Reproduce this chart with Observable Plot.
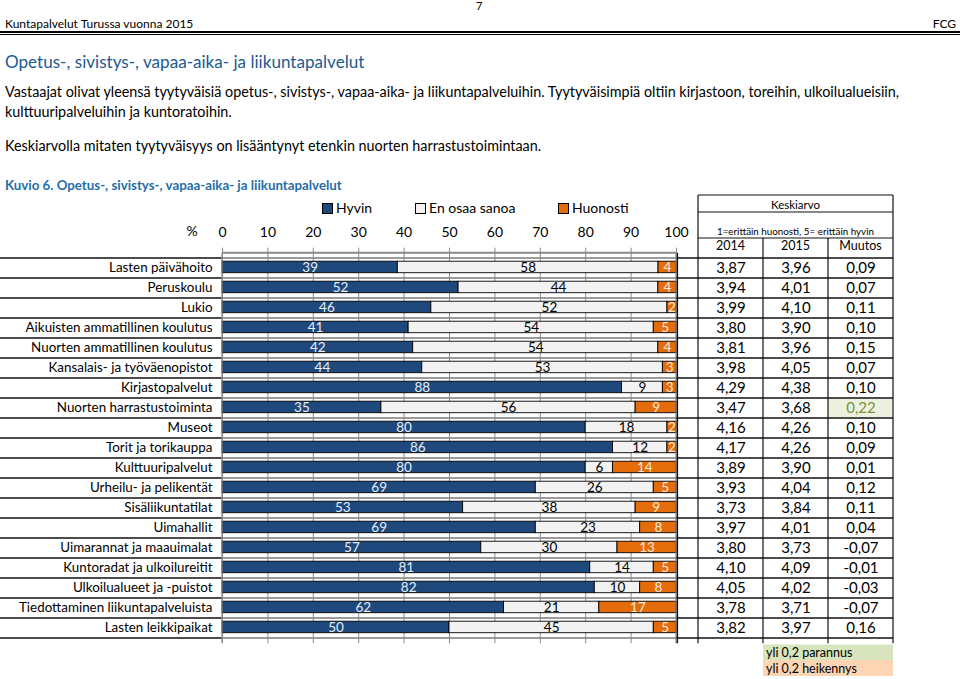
<!DOCTYPE html>
<html><head><meta charset="utf-8">
<script src="https://cdn.jsdelivr.net/npm/d3@7"></script>
<script src="https://cdn.jsdelivr.net/npm/@observablehq/plot@0.6"></script>
<style>
body{margin:0;background:#fff;font-family:Lato,"Open Sans",sans-serif;color:#000;}
#page{position:relative;width:960px;height:679px;overflow:hidden;background:#fff;}
.abs{position:absolute;white-space:nowrap;line-height:1;}
#chart{position:absolute;left:0;top:0;}
.sw{display:inline-block;width:9px;height:9px;border:1px solid #000;margin-right:3px;vertical-align:-1px;}
</style></head><body><div id="page">
<div class="abs" style="left:476px;top:0px;font-size:11px;">7</div>
<div class="abs" style="left:5px;top:18px;font-size:12px;">Kuntapalvelut Turussa vuonna 2015</div>
<div class="abs" style="right:4px;top:18px;font-size:12px;">FCG</div>
<div class="abs" style="left:0;top:31px;width:960px;height:2px;background:#000;"></div>
<div class="abs" style="left:0;top:34px;width:960px;height:1px;background:#000;"></div>
<div class="abs" style="left:5px;top:53px;font-size:17.1px;color:#215A91;">Opetus-, sivistys-, vapaa-aika- ja liikuntapalvelut</div>
<div class="abs" style="left:5px;top:84.5px;font-size:14.35px;">Vastaajat olivat yleensä tyytyväisiä opetus-, sivistys-, vapaa-aika- ja liikuntapalveluihin. Tyytyväisimpiä oltiin kirjastoon, toreihin, ulkoilualueisiin,</div>
<div class="abs" style="left:5px;top:104.5px;font-size:14.35px;">kulttuuripalveluihin ja kuntoratoihin.</div>
<div class="abs" style="left:5px;top:138.5px;font-size:14.35px;">Keskiarvolla mitaten tyytyväisyys on lisääntynyt etenkin nuorten harrastustoimintaan.</div>
<div class="abs" style="left:5px;top:178.5px;font-size:13.3px;font-weight:bold;color:#1F6EA8;">Kuvio 6. Opetus-, sivistys-, vapaa-aika- ja liikuntapalvelut</div>
<div id="legend"></div>
<div id="chart"></div>
</div>
<script>
const categories = ["Lasten päivähoito","Peruskoulu","Lukio","Aikuisten ammatillinen koulutus","Nuorten ammatillinen koulutus","Kansalais- ja työväenopistot","Kirjastopalvelut","Nuorten harrastustoiminta","Museot","Torit ja torikauppa","Kulttuuripalvelut","Urheilu- ja pelikentät","Sisäliikuntatilat","Uimahallit","Uimarannat ja maauimalat","Kuntoradat ja ulkoilureitit","Ulkoilualueet ja -puistot","Tiedottaminen liikuntapalveluista","Lasten leikkipaikat"];
const hyvin    = [39,52,46,41,42,44,88,35,80,86,80,69,53,69,57,81,82,62,50];
const enOsaa   = [58,44,52,54,54,53, 9,56,18,12, 6,26,38,23,30,14,10,21,45];
const huonosti = [ 4, 4, 2, 5, 4, 3, 3, 9, 2, 2,14, 5, 9, 8,13, 5, 8,17, 5];
const avg2014  = [3.87,3.94,3.99,3.80,3.81,3.98,4.29,3.47,4.16,4.17,3.89,3.93,3.73,3.97,3.80,4.10,4.05,3.78,3.82];
const avg2015  = [3.96,4.01,4.10,3.90,3.96,4.05,4.38,3.68,4.26,4.26,3.90,4.04,3.84,4.01,3.73,4.09,4.02,3.71,3.97];
const muutos   = [0.09,0.07,0.11,0.10,0.15,0.07,0.10,0.22,0.10,0.09,0.01,0.12,0.11,0.04,-0.07,-0.01,-0.03,-0.07,0.16];
const seriesNames = ["Hyvin","En osaa sanoa","Huonosti"];
const xTicks = [0,10,20,30,40,50,60,70,80,90,100];
const tableHeads = ["2014","2015","Muutos"];

const barColors = {"Hyvin":"#1F497D","En osaa sanoa":"#F2F2F2","Huonosti":"#E46C0A"};
const labelColors = {"Hyvin":"#E6EEF8","En osaa sanoa":"#000","Huonosti":"#FDEADA"};
const seriesValues = [hyvin, enOsaa, huonosti];

const rows = [];
categories.forEach((c,i)=>seriesNames.forEach((s,j)=>rows.push({cat:c, series:s, value:seriesValues[j][i]})));
const table = categories.map((c,i)=>({cat:c, a14:avg2014[i], a15:avg2015[i], m:muutos[i]}));
const fmt = v => (v<0?"-":"") + Math.abs(v).toFixed(2).replace(".",",");

// legend
const leg = document.getElementById("legend");
const legX = [322,415,558];
seriesNames.forEach((s,j)=>{
  const d = document.createElement("div");
  d.className="abs"; d.style.left=legX[j]+"px"; d.style.top="201px"; d.style.fontSize="14px";
  d.innerHTML = `<span class="sw" style="background:${barColors[s]}"></span>${s}`;
  leg.appendChild(d);
});

const L=222, R=676, T=252.7, B=643.2;
const chart = Plot.plot({
  width:960, height:679,
  marginLeft:L, marginRight:960-R, marginTop:T, marginBottom:679-B,
  x:{domain:[0,1]},
  y:{domain:categories, padding:0},
  color:{type:"identity"},
  style:{fontFamily:"Lato, sans-serif", background:"transparent", overflow:"visible", color:"#000"},
  marks:[
    Plot.ruleX(xTicks, {x:d=>d/100, stroke:"#8a8a8a", strokeWidth:1}),
    Plot.barX(rows, Plot.stackX({x:"value", y:"cat", z:"series", fill:d=>barColors[d.series], offset:"normalize", stroke:"#000", strokeWidth:0.9, insetTop:3.2, insetBottom:5.3})),
    Plot.text(rows, Plot.stackX({x:"value", y:"cat", z:"series", text:d=>String(d.value), offset:"normalize", fill:d=>labelColors[d.series], fontSize:13.5, dy:-1.2})),
    Plot.axisX({anchor:"top", ticks:xTicks.map(d=>d/100), tickFormat:d=>Math.round(d*100), tickSize:6, tickPadding:10, fontSize:14, stroke:"#8a8a8a", fill:"#000", label:null}),
    Plot.axisY({anchor:"left", tickSize:0, tickPadding:10, fontSize:13.4, fill:"#000", label:null, dy:-1}),
    Plot.text(table, {y:"cat", text:d=>fmt(d.a14), frameAnchor:"right", textAnchor:"middle", dx:730.5-R, fontSize:15, fill:"#000", dy:-0.5}),
    Plot.text(table, {y:"cat", text:d=>fmt(d.a15), frameAnchor:"right", textAnchor:"middle", dx:795.5-R, fontSize:15, fill:"#000", dy:-0.5}),
    Plot.text(table, {y:"cat", text:d=>fmt(d.m), frameAnchor:"right", textAnchor:"middle", dx:860.5-R, fontSize:15, fill:d=>d.m>0.2?"#77933C":(d.m<-0.2?"#C0504D":"#000"), dy:-0.5})
  ]
});
document.getElementById("chart").appendChild(chart);

const svg = d3.select(chart);
const ys = chart.scale("y");
const bw = ys.bandwidth;
const back = svg.insert("g", ":first-child");
const front = svg.append("g").attr("text-anchor","start");
function line(g,x1,x2,y1,y2,stroke,w){g.append("line").attr("x1",x1).attr("x2",x2).attr("y1",y1).attr("y2",y2).attr("stroke",stroke).attr("stroke-width",w);}
// highlight cells
table.forEach(d=>{
  const y = ys.apply(d.cat);
  if (d.m>0.2) back.append("rect").attr("x",829).attr("y",y+1).attr("width",63).attr("height",bw-2).attr("fill","#EBF1DE");
  if (d.m<-0.2) back.append("rect").attr("x",829).attr("y",y+1).attr("width",63).attr("height",bw-2).attr("fill","#FDE9D9");
});
// row lines
const bounds = categories.map(c=>ys.apply(c)).concat([ys.apply(categories[categories.length-1])+bw]);
bounds.forEach(y=>{
  line(back,L,R,y,y,"#7a7a7a",1.4);
  line(front,0,L,y,y,"#111",1.4);
  line(front,R,893,y,y,"#111",1.4);
});
// frame
line(front,L,R,T,T,"#8a8a8a",2);
line(front,L,L,T,B,"#8a8a8a",1.2);
line(front,R,R,T,B,"#8a8a8a",1.2);
line(front,R+1.5,R+1.5,T,B,"#111",1.2);
// table
[195,212,238].forEach(y=>line(front,698,893,y,y,"#111",1.2));
line(front,698,698,195,B,"#111",1.2);
line(front,893,893,195,B,"#111",1.2);
[763,828].forEach(x=>line(front,x,x,238,B,"#111",1.2));
front.append("text").attr("x",795.5).attr("y",204).attr("text-anchor","middle").attr("dominant-baseline","central").attr("font-size",11.5).text("Keskiarvo");
front.append("text").attr("x",795.5).attr("y",231).attr("text-anchor","middle").attr("dominant-baseline","central").attr("font-size",9.8).text("1=erittäin huonosti, 5= erittäin hyvin");
[730.5,795.5,860.5].forEach((x,i)=>front.append("text").attr("x",x).attr("y",245.5).attr("text-anchor","middle").attr("dominant-baseline","central").attr("font-size",12.5).text(tableHeads[i]));
front.append("text").attr("x",192).attr("y",230).attr("text-anchor","middle").attr("dominant-baseline","central").attr("font-size",14).text("%");
// change legend
front.append("rect").attr("x",763).attr("y",644.5).attr("width",130).attr("height",15.5).attr("fill","#D7E4BD");
front.append("rect").attr("x",763).attr("y",660).attr("width",130).attr("height",16).attr("fill","#FCD5B5");
front.append("text").attr("x",766).attr("y",652.5).attr("text-anchor","start").attr("dominant-baseline","central").attr("font-size",12.5).text("yli 0,2 parannus");
front.append("text").attr("x",766).attr("y",668).attr("text-anchor","start").attr("dominant-baseline","central").attr("font-size",12.5).text("yli 0,2 heikennys");
</script>
</body></html>
